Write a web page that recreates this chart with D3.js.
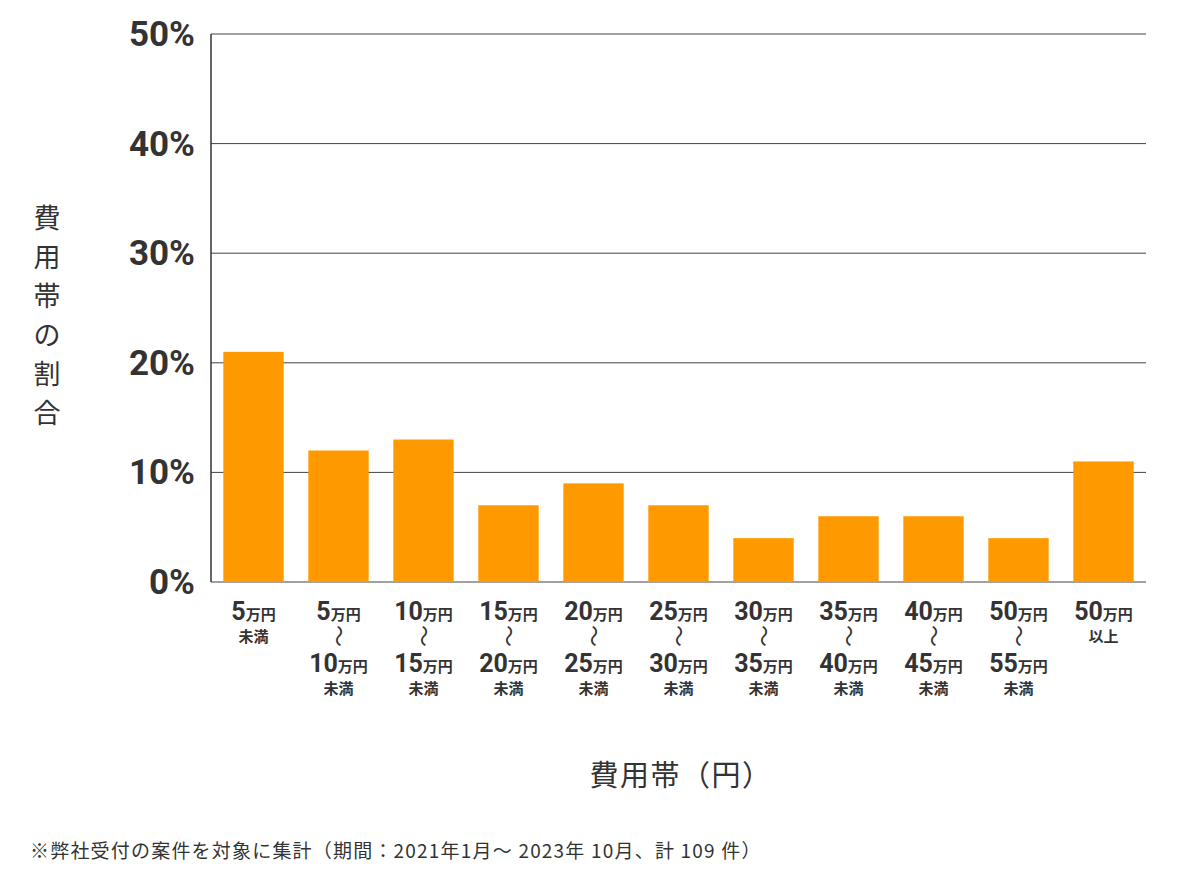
<!DOCTYPE html>
<html><head><meta charset="utf-8">
<script src="https://cdn.jsdelivr.net/npm/d3@7"></script>
<style>body{margin:0;background:#fff;font-family:"Noto Sans CJK JP","Noto Sans",sans-serif;}</style>
</head><body><svg id="c" width="1200" height="874"></svg>
<script>
const lowNums = ['5', '5', '10', '15', '20', '25', '30', '35', '40', '50', '50'];
const highNums = [null, '10', '15', '20', '25', '30', '35', '40', '45', '55', null];
const suffixes = ['未満', null, null, null, null, null, null, null, null, null, '以上'];
const shares = [21, 12, 13, 7, 9, 7, 4, 6, 6, 4, 11];
const yTicks = [0, 10, 20, 30, 40, 50];

const svg = d3.select('#c');
const font = '"Noto Sans CJK JP","Noto Sans",sans-serif';
const numFont = 'Roboto,"Noto Sans",sans-serif';
const m = {l: 211, r: 1146, t: 34, b: 582};
const x = d3.scaleBand().domain(d3.range(shares.length)).range([m.l, m.r]).paddingInner(0.29).paddingOuter(0.145);
const y = d3.scaleLinear().domain([0, 50]).range([m.b, m.t]);

// grid
svg.append('g').selectAll('line').data(yTicks).enter().append('line')
  .attr('x1', m.l).attr('x2', m.r).attr('y1', d => y(d)).attr('y2', d => y(d))
  .attr('stroke', '#444').attr('stroke-width', 1);

svg.append('g').selectAll('rect').data(shares).enter().append('rect')
  .attr('x', (d, i) => x(i)).attr('width', x.bandwidth())
  .attr('y', d => y(d)).attr('height', d => y(0) - y(d)).attr('fill', '#ff9900');

svg.append('line').attr('x1', m.l).attr('x2', m.l).attr('y1', m.t).attr('y2', m.b).attr('stroke', '#333').attr('stroke-width', 1.5);

svg.append('g').selectAll('text').data(yTicks).enter().append('text')
  .attr('x', 195).attr('y', d => y(d) + 12).attr('text-anchor', 'end')
  .attr('font-family', numFont).attr('font-weight', 'bold').attr('font-size', 35).attr('fill', '#333')
  .text(d => d + '%');

// x labels
const xl = svg.append('g').attr('fill', '#333').attr('font-family', font).attr('font-weight', 'bold');
function amount(cx, yy, num) {
  const t = xl.append('text').attr('x', cx).attr('y', yy).attr('text-anchor', 'middle');
  t.append('tspan').attr('font-size', 25).attr('font-family', numFont).text(num);
  t.append('tspan').attr('font-size', 15).text('万円');
}
lowNums.forEach((n, i) => {
  const cx = x(i) + x.bandwidth() / 2;
  amount(cx, 620, n);
  if (highNums[i]) {
    xl.append('text').attr('transform', `translate(${cx},636) rotate(90)`).attr('text-anchor', 'middle')
      .attr('dy', '0.35em').attr('font-size', 22).attr('font-weight', 'normal').text('～');
    amount(cx, 672, highNums[i]);
    xl.append('text').attr('x', cx).attr('y', 694).attr('text-anchor', 'middle').attr('font-size', 15).text('未満');
  } else {
    xl.append('text').attr('x', cx).attr('y', 642).attr('text-anchor', 'middle').attr('font-size', 15).text(suffixes[i]);
  }
});

// titles
const yt = svg.append('text').attr('font-family', font).attr('font-size', 27).attr('fill', '#333').attr('text-anchor', 'middle');
Array.from('費用帯の割合').forEach((ch, i) => yt.append('tspan').attr('x', 47).attr('y', 228 + i * 39).text(ch));
svg.append('text').attr('x', 681).attr('y', 786).attr('text-anchor', 'middle').attr('font-family', font)
  .attr('font-size', 29).attr('letter-spacing', 1.5).attr('fill', '#333').text('費用帯（円）');
svg.append('text').attr('x', 30).attr('y', 858).attr('font-family', font)
  .attr('font-size', 19).attr('letter-spacing', 1.2).attr('fill', '#333').text('※弊社受付の案件を対象に集計（期間：2021年1月～ 2023年 10月、計 109 件）');
</script></body></html>
